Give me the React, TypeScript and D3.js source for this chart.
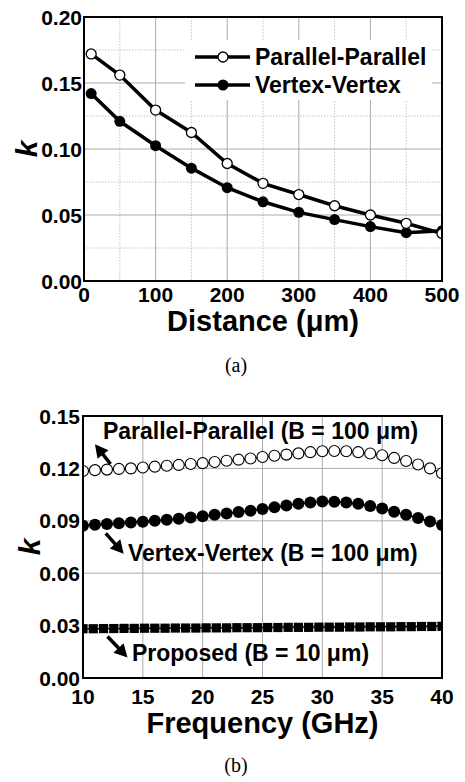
import React from "react";
import * as d3 from "d3";

// ---------- Data (a) ----------
const distance = [10, 50, 100, 150, 200, 250, 300, 350, 400, 450, 500];
const kParallel = [0.172, 0.156, 0.1295, 0.1125, 0.089, 0.074, 0.0655, 0.057, 0.05, 0.0437, 0.036];
const kVertex = [0.142, 0.121, 0.1025, 0.0855, 0.0707, 0.06, 0.052, 0.0465, 0.0412, 0.0366, 0.038];
const distTicks = [0, 100, 200, 300, 400, 500];
const distMinor = [50, 150, 250, 350, 450];
const kTicksA = [0, 0.05, 0.1, 0.15, 0.2];
const kMinorA = [0.025, 0.075, 0.125, 0.175];
const legendA = ["Parallel-Parallel", "Vertex-Vertex"];

// ---------- Data (b) ----------
const freq = [10, 11, 12, 13, 14, 15, 16, 17, 18, 19, 20, 21, 22, 23, 24, 25, 26, 27, 28, 29, 30, 31, 32, 33, 34, 35, 36, 37, 38, 39, 40];
const kPPfreq = [0.1185, 0.119, 0.1193, 0.1197, 0.12, 0.1205, 0.121, 0.1215, 0.122, 0.1225, 0.123, 0.1237, 0.1244, 0.125, 0.1257, 0.1265, 0.1272, 0.1279, 0.1286, 0.1293, 0.1298, 0.13, 0.1298, 0.1293, 0.1285, 0.1275, 0.126, 0.1242, 0.1222, 0.12, 0.1172];
const kVVfreq = [0.0872, 0.0877, 0.0882, 0.0886, 0.089, 0.0895, 0.09, 0.0906, 0.0912, 0.0919, 0.0926, 0.0934, 0.0942, 0.095, 0.0958, 0.0968, 0.0978, 0.0988, 0.0997, 0.1005, 0.101, 0.1009, 0.1005, 0.0997, 0.0985, 0.097, 0.0952, 0.0935, 0.0916, 0.0896, 0.0876];
const freqProposed = [10, 10.857, 11.714, 12.571, 13.429, 14.286, 15.143, 16, 16.857, 17.714, 18.571, 19.429, 20.286, 21.143, 22, 22.857, 23.714, 24.571, 25.429, 26.286, 27.143, 28, 28.857, 29.714, 30.571, 31.429, 32.286, 33.143, 34, 34.857, 35.714, 36.571, 37.429, 38.286, 39.143, 40];
const kProposed = [0.0282, 0.0282, 0.0283, 0.0283, 0.0284, 0.0284, 0.0285, 0.0285, 0.0285, 0.0286, 0.0286, 0.0286, 0.0287, 0.0287, 0.0287, 0.0288, 0.0288, 0.0288, 0.0289, 0.0289, 0.029, 0.029, 0.029, 0.0291, 0.0291, 0.0291, 0.0292, 0.0292, 0.0293, 0.0293, 0.0293, 0.0294, 0.0294, 0.0295, 0.0295, 0.0296];
const freqTicks = [10, 15, 20, 25, 30, 35, 40];
const kTicksB = [0, 0.03, 0.06, 0.09, 0.12, 0.15];
const annotB = ["Parallel-Parallel (B = 100 \u03BCm)", "Vertex-Vertex (B = 100 \u03BCm)", "Proposed (B = 10 \u03BCm)"];
// annotation anchors in data units: [textX, textY, arrowTailX, arrowTailY, arrowTipX, arrowTipY]
const annotPos = [
  [11.67, 0.1368, 12.3, 0.1225, 11.0, 0.1338],
  [13.76, 0.0668, 11.9, 0.0828, 13.4, 0.0712],
  [14.09, 0.0099, 12.05, 0.0238, 13.72, 0.0118],
];

const SANS = "'Liberation Sans', Arial, sans-serif";
const GRID = "#ababab";

function Arrow({ x1, y1, x2, y2 }: { x1: number; y1: number; x2: number; y2: number }) {
  const ang = Math.atan2(y2 - y1, x2 - x1);
  const L = 13, W = 7;
  const bx = x2 - L * Math.cos(ang), by = y2 - L * Math.sin(ang);
  const px = -Math.sin(ang), py = Math.cos(ang);
  const pts = `${x2},${y2} ${bx + W * px},${by + W * py} ${bx - W * px},${by - W * py}`;
  return (
    <g>
      <line x1={x1} y1={y1} x2={bx + 2 * Math.cos(ang)} y2={by + 2 * Math.sin(ang)} stroke="#000" strokeWidth={3.5} />
      <polygon points={pts} fill="#000" />
    </g>
  );
}

export default function App() {
  // ---------- chart (a) ----------
  const A = { l: 84, r: 442, t: 17, b: 281 };
  const xA = d3.scaleLinear().domain([0, 500]).range([A.l, A.r]);
  const yA = d3.scaleLinear().domain([0, 0.2]).range([A.b, A.t]);
  const lineA = d3.line<number>().x((_, i) => xA(distance[i])).y((d) => yA(d));

  // ---------- chart (b) ----------
  const B = { l: 83, r: 442, t: 416, b: 678 };
  const xB = d3.scaleLinear().domain([10, 40]).range([B.l, B.r]);
  const yB = d3.scaleLinear().domain([0, 0.15]).range([B.b, B.t]);
  const lineB = d3.line<number>().x((_, i) => xB(freq[i])).y((d) => yB(d));
  const lineP = d3.line<number>().x((_, i) => xB(freqProposed[i])).y((d) => yB(d));

  return (
    <svg width={465} height={782} style={{ position: "absolute", left: 0, top: 0, background: "#fff" }}>
      <defs>
        <clipPath id="clipA">
          <rect x={A.l} y={A.t} width={A.r - A.l} height={A.b - A.t} />
        </clipPath>
        <clipPath id="clipB">
          <rect x={B.l} y={B.t} width={B.r - B.l} height={B.b - B.t} />
        </clipPath>
      </defs>
      <rect x={0} y={0} width={465} height={782} fill="#fff" />

      {/* ===== (a) ===== */}
      <g>
        {distMinor.map((d) => (
          <line key={"xm" + d} x1={xA(d)} x2={xA(d)} y1={A.t} y2={A.b} stroke="#c4c4c4" strokeDasharray="1.5,1.5" />
        ))}
        {kMinorA.map((d) => (
          <line key={"ym" + d} x1={A.l} x2={A.r} y1={yA(d)} y2={yA(d)} stroke="#c4c4c4" strokeDasharray="1.5,1.5" />
        ))}
        {distTicks.slice(1, -1).map((d) => (
          <line key={"xg" + d} x1={xA(d)} x2={xA(d)} y1={A.t} y2={A.b} stroke={GRID} />
        ))}
        {kTicksA.slice(1, -1).map((d) => (
          <line key={"yg" + d} x1={A.l} x2={A.r} y1={yA(d)} y2={yA(d)} stroke={GRID} />
        ))}
        {/* legend box */}
        <rect x={185} y={40} width={247} height={60} fill="#fff" />
        <g clipPath="url(#clipA)">
          <path d={lineA(kParallel) || ""} fill="none" stroke="#000" strokeWidth={3.5} />
          <path d={lineA(kVertex) || ""} fill="none" stroke="#000" strokeWidth={3.5} />
          {kVertex.map((v, i) => (
            <circle key={"vv" + i} cx={xA(distance[i])} cy={yA(v)} r={5.5} fill="#000" />
          ))}
          {kParallel.map((v, i) => (
            <circle key={"pp" + i} cx={xA(distance[i])} cy={yA(v)} r={5} fill="#fff" stroke="#000" strokeWidth={1.3} />
          ))}
        </g>
        <rect x={A.l} y={A.t} width={A.r - A.l} height={A.b - A.t} fill="none" stroke="#000" strokeWidth={2} />
        {/* legend */}
        {legendA.map((name, i) => {
          const y = 57 + i * 28;
          return (
            <g key={name}>
              <line x1={195} x2={250} y1={y} y2={y} stroke="#000" strokeWidth={3.5} />
              {i === 0 ? (
                <circle cx={223} cy={y} r={5} fill="#fff" stroke="#000" strokeWidth={1.3} />
              ) : (
                <circle cx={223} cy={y} r={5.5} fill="#000" />
              )}
              <text x={255} y={y + 8} fontFamily={SANS} fontWeight="bold" fontSize={23}>
                {name}
              </text>
            </g>
          );
        })}
        {kTicksA.map((d) => (
          <text key={"yl" + d} x={82} y={yA(d) + 7.5} textAnchor="end" fontFamily={SANS} fontWeight="bold" fontSize={21}>
            {d3.format(".2f")(d)}
          </text>
        ))}
        {distTicks.map((d) => (
          <text key={"xl" + d} x={xA(d)} y={302} textAnchor="middle" fontFamily={SANS} fontWeight="bold" fontSize={21}>
            {d}
          </text>
        ))}
        <text x={(A.l + A.r) / 2} y={331} textAnchor="middle" fontFamily={SANS} fontWeight="bold" fontSize={29}>
          Distance (μm)
        </text>
        <text transform={`translate(37,${(A.t + A.b) / 2}) rotate(-90)`} textAnchor="middle" fontFamily={SANS} fontWeight="bold" fontStyle="italic" fontSize={30}>
          k
        </text>
        <text x={236} y={372} textAnchor="middle" fontFamily="'Liberation Serif', 'Times New Roman', serif" fontSize={20}>
          (a)
        </text>
      </g>

      {/* ===== (b) ===== */}
      <g>
        {freqTicks.slice(1, -1).map((d) => (
          <line key={"bxg" + d} x1={xB(d)} x2={xB(d)} y1={B.t} y2={B.b} stroke={GRID} />
        ))}
        {kTicksB.slice(1, -1).map((d) => (
          <line key={"byg" + d} x1={B.l} x2={B.r} y1={yB(d)} y2={yB(d)} stroke={GRID} />
        ))}
        <g clipPath="url(#clipB)">
          <path d={lineB(kPPfreq) || ""} fill="none" stroke="#000" strokeWidth={1.5} />
          {kPPfreq.map((v, i) => (
            <circle key={"bpp" + i} cx={xB(freq[i])} cy={yB(v)} r={5.5} fill="#fff" stroke="#000" strokeWidth={1.1} />
          ))}
          <path d={lineB(kVVfreq) || ""} fill="none" stroke="#000" strokeWidth={1.5} />
          {kVVfreq.map((v, i) => (
            <circle key={"bvv" + i} cx={xB(freq[i])} cy={yB(v)} r={6} fill="#000" />
          ))}
          <path d={lineP(kProposed) || ""} fill="none" stroke="#000" strokeWidth={1.5} />
          {kProposed.map((v, i) => (
            <rect key={"bp" + i} x={xB(freqProposed[i]) - 4.6} y={yB(v) - 4.6} width={9.2} height={9.2} fill="#000" />
          ))}
        </g>
        <rect x={B.l} y={B.t} width={B.r - B.l} height={B.b - B.t} fill="none" stroke="#000" strokeWidth={2} />
        {annotB.map((txt, i) => {
          const p = annotPos[i];
          return (
            <g key={txt}>
              <text x={xB(p[0])} y={yB(p[1])} fontFamily={SANS} fontWeight="bold" fontSize={23}>
                {txt}
              </text>
              <Arrow x1={xB(p[2])} y1={yB(p[3])} x2={xB(p[4])} y2={yB(p[5])} />
            </g>
          );
        })}
        {kTicksB.map((d) => (
          <text key={"byl" + d} x={80} y={yB(d) + 7.5} textAnchor="end" fontFamily={SANS} fontWeight="bold" fontSize={21}>
            {d3.format(".2f")(d)}
          </text>
        ))}
        {freqTicks.map((d) => (
          <text key={"bxl" + d} x={xB(d)} y={704} textAnchor="middle" fontFamily={SANS} fontWeight="bold" fontSize={21}>
            {d}
          </text>
        ))}
        <text x={(B.l + B.r) / 2} y={733} textAnchor="middle" fontFamily={SANS} fontWeight="bold" fontSize={29}>
          Frequency (GHz)
        </text>
        <text transform={`translate(40,${(B.t + B.b) / 2}) rotate(-90)`} textAnchor="middle" fontFamily={SANS} fontWeight="bold" fontStyle="italic" fontSize={30}>
          k
        </text>
        <text x={236} y={772} textAnchor="middle" fontFamily="'Liberation Serif', 'Times New Roman', serif" fontSize={20}>
          (b)
        </text>
      </g>
    </svg>
  );
}
